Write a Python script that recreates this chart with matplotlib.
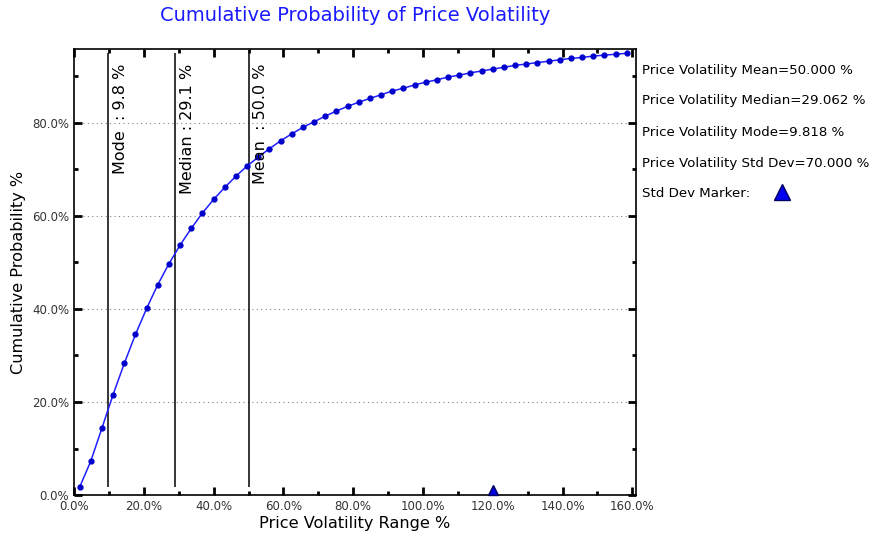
import matplotlib
matplotlib.use("Agg")
import matplotlib.pyplot as plt
from matplotlib.ticker import MultipleLocator, FuncFormatter

# bin centres (% volatility) and cumulative probability (%)
vol_x = [1.6, 4.8, 8.0, 11.2, 14.4, 17.6, 20.8, 24.0, 27.2, 30.4,
         33.6, 36.8, 40.0, 43.2, 46.4, 49.6, 52.8, 56.0, 59.2, 62.4,
         65.6, 68.8, 72.0, 75.2, 78.4, 81.6, 84.8, 88.0, 91.2, 94.4,
         97.6, 100.8, 104.0, 107.2, 110.4, 113.6, 116.8, 120.0, 123.2, 126.4,
         129.6, 132.8, 136.0, 139.2, 142.4, 145.6, 148.8, 152.0, 155.2, 158.4]
cum_prob = [1.7, 7.3, 14.4, 21.6, 28.3, 34.5, 40.1, 45.2, 49.7, 53.7,
            57.3, 60.6, 63.5, 66.1, 68.5, 70.7, 72.6, 74.4, 76.1, 77.6,
            79.0, 80.2, 81.4, 82.5, 83.5, 84.4, 85.2, 86.0, 86.8, 87.4,
            88.1, 88.7, 89.2, 89.8, 90.2, 90.7, 91.1, 91.5, 91.9, 92.3,
            92.6, 92.9, 93.2, 93.5, 93.8, 94.0, 94.3, 94.5, 94.7, 94.9]

stat_names = ["Mode  ", "Median ", "Mean  "]
stat_vals = [9.818, 29.062, 50.0]
std_dev = 70.0
std_marker_x = 120.0

fig = plt.figure(figsize=(8.71, 5.37), dpi=100)
ax = fig.add_axes([0.085, 0.078, 0.645, 0.831])

ax.plot(vol_x, cum_prob, color="#1f1fff", lw=1.1, marker="o", ms=3.5,
        mfc="#0000cc", mec="#0000cc", zorder=3)

ymin, ymax = cum_prob[0], cum_prob[-1]
for name, v in zip(stat_names, stat_vals):
    ax.vlines(v, ymin, ymax, color="black", lw=1.1, zorder=2)
    ax.text(v + 1.3, 92.6, "%s: %.1f %%" % (name, v), rotation=90,
            ha="left", va="top", fontsize=11.5, color="black")

ax.plot([std_marker_x], [1.05], marker="^", ms=7, color="#0000dd",
        mec="#000060", ls="none", zorder=4, clip_on=False)

ax.set_xlim(0, 161)
ax.set_ylim(0, cum_prob[-1] * 1.01)
ax.xaxis.set_major_locator(MultipleLocator(20))
ax.xaxis.set_minor_locator(MultipleLocator(10))
ax.yaxis.set_major_locator(MultipleLocator(20))
ax.yaxis.set_minor_locator(MultipleLocator(10))
pct = FuncFormatter(lambda v, p: "%.1f%%" % v)
ax.xaxis.set_major_formatter(pct)
ax.yaxis.set_major_formatter(pct)
ax.tick_params(which="both", direction="in", top=True, right=True, width=2,
               labelsize=8.5, labelcolor="#333333")
ax.tick_params(which="major", length=6)
ax.tick_params(which="minor", length=3)
ax.yaxis.grid(True, which="major", ls=(0, (1, 3)), color="gray", lw=0.8)
for s in ax.spines.values():
    s.set_linewidth(1.2)

ax.set_xlabel("Price Volatility Range %", fontsize=11.6, labelpad=2)
ax.set_ylabel("Cumulative Probability %", fontsize=11.6)
fig.text(0.4075, 0.972, "Cumulative Probability of Price Volatility",
         ha="center", va="center", fontsize=14, color="#1a1aff")

lines = ["Price Volatility Mean=%.3f %%" % stat_vals[2],
         "Price Volatility Median=%.3f %%" % stat_vals[1],
         "Price Volatility Mode=%.3f %%" % stat_vals[0],
         "Price Volatility Std Dev=%.3f %%" % std_dev,
         "Std Dev Marker:"]
ys = [0.868, 0.812, 0.754, 0.695, 0.639]
for t, y in zip(lines, ys):
    fig.text(0.737, y, t, ha="left", va="center", fontsize=9.6)
fig.lines.append(plt.Line2D([0.898], [0.642], marker="^", ms=11, color="#0000ee",
                            mec="#000060", transform=fig.transFigure))

fig.savefig("out.png", dpi=100)
